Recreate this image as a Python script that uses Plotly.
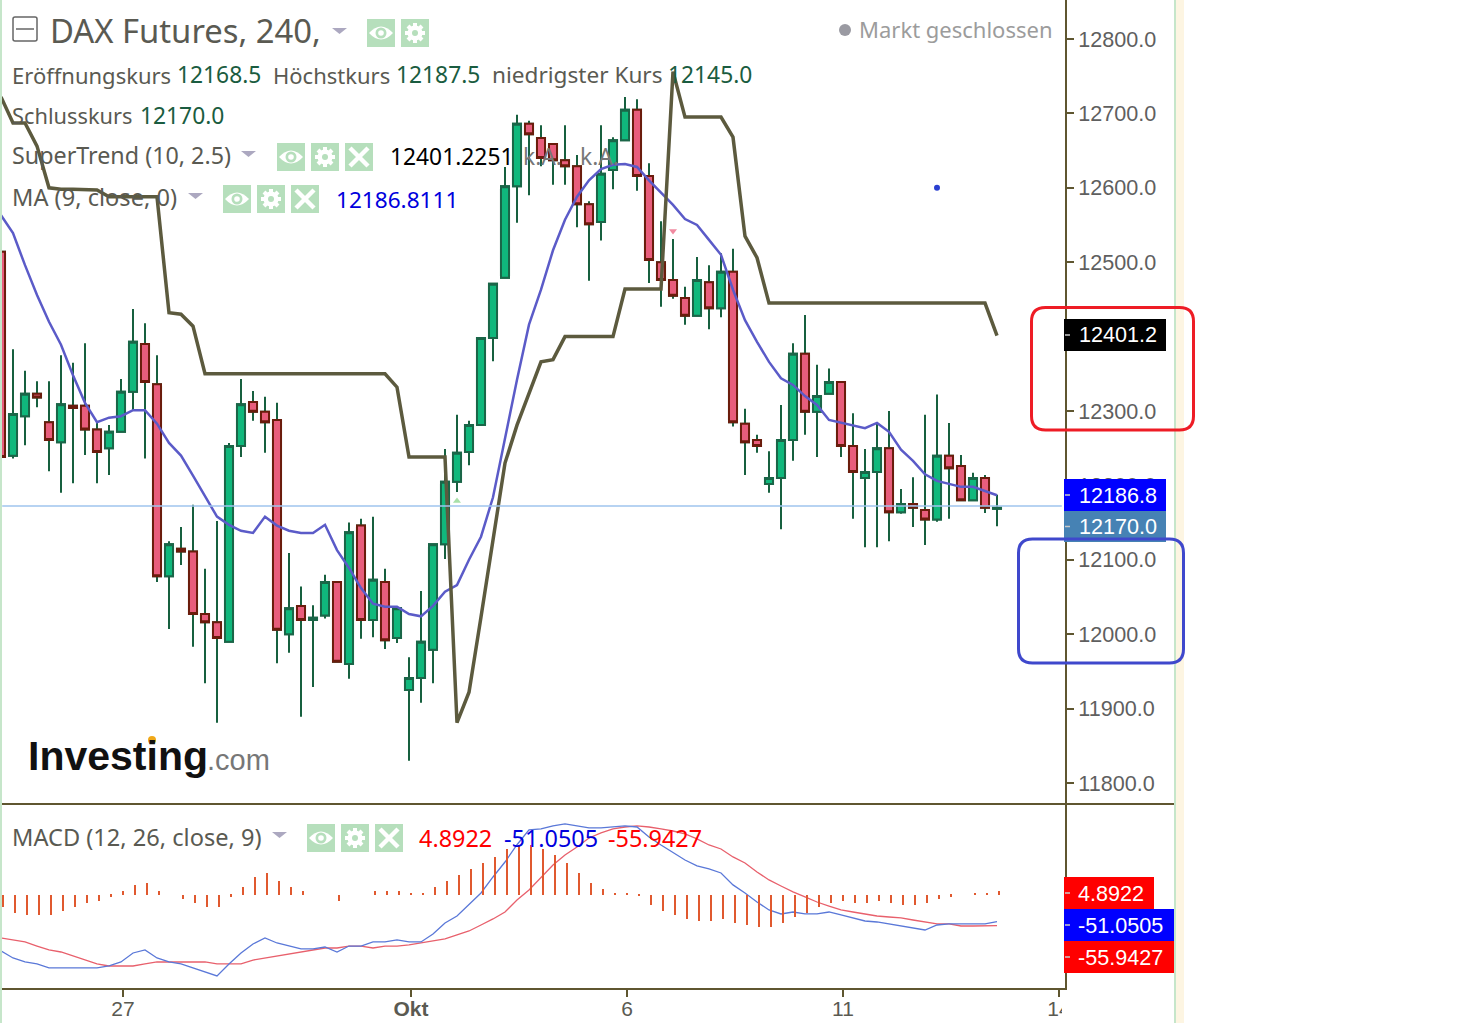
import plotly.graph_objects as go

W, H = 1458, 1023

candle_open = [12514,12240,12293,12323,12285,12258,12307,12307,12275,12250,
               12272,12326,12390,12336,12078,12115,12111,12027,12016,11990,
               12253,12312,12299,12288,12000,12038,12019,12025,12070,11960,
               12146,12019,12070,11995,11925,11941,11979,12121,12205,12245,
               12281,12398,12479,12602,12686,12667,12659,12637,12629,12578,
               12554,12624,12664,12705,12616,12500,12476,12452,12428,12473,
               12438,12487,12283,12261,12202,12210,12261,12377,12299,12323,
               12339,12253,12210,12218,12250,12164,12175,12167,12154,12240,
               12226,12180,12210,12168.5]
candle_high = [12516,12383,12354,12340,12340,12375,12365,12391,12285,12281,
               12343,12437,12418,12375,12125,12144,12174,12088,12152,12257,
               12343,12327,12319,12311,12109,12064,12039,12080,12070,12150,
               12155,12158,12088,12035,11969,12058,12121,12249,12295,12287,
               12398,12471,12628,12698,12690,12684,12660,12684,12644,12582,
               12684,12668,12722,12719,12633,12555,12531,12467,12507,12496,
               12512,12518,12303,12268,12246,12308,12391,12429,12362,12357,
               12339,12297,12249,12284,12300,12195,12211,12295,12322,12284,
               12241,12217,12214,12187.5]
candle_low = [12236,12236,12254,12305,12219,12190,12203,12241,12203,12214,
              12272,12301,12236,12070,12007,12093,11983,11934,11881,11990,
              12238,12287,12244,11961,11975,11889,11929,12021,11963,11940,
              11994,11996,11980,11988,11830,11908,11934,12101,12191,12227,
              12280,12367,12479,12553,12590,12629,12604,12604,12547,12475,
              12529,12598,12664,12596,12472,12440,12451,12416,12428,12410,
              12426,12279,12214,12244,12190,12141,12233,12268,12238,12323,
              12238,12155,12117,12117,12125,12162,12144,12120,12151,12155,
              12180,12180,12163,12145]
candle_close = [12238,12296,12323,12318,12261,12309,12304,12275,12245,12272,
                12326,12393,12339,12078,12121,12111,12027,12016,11995,12253,
                12309,12299,12285,12006,12035,12019,12022,12070,11963,12137,
                12019,12073,11992,12035,11941,11990,12121,12205,12244,12281,
                12398,12471,12602,12686,12672,12640,12637,12629,12578,12551,
                12619,12664,12705,12616,12503,12476,12455,12428,12476,12438,
                12487,12285,12258,12253,12210,12261,12377,12299,12320,12339,
                12253,12218,12218,12250,12164,12175,12170,12154,12240,12223,
                12180,12210,12170,12170]
supertrend = [12722,12687,12687,12656,12600,12598,12598,12598,12597,12588,
              12588,12588,12588,12588,12432,12430,12414,12350,12350,12350,
              12350,12350,12350,12350,12350,12350,12350,12350,12350,12350,
              12350,12350,12350,12332,12238,12238,12238,12238,11881,11922,
              12023,12124,12230,12281,12323,12366,12369,12400,12400,12400,
              12400,12400,12464,12464,12464,12464,12756,12695,12695,12695,
              12695,12668,12535,12506,12445,12445,12445,12445,12445,12445,
              12445,12445,12445,12445,12445,12445,12445,12445,12445,12445,
              12445,12445,12445,12401.2]
moving_avg = [12563,12539,12496,12456,12420,12389,12348,12311,12285,12291,
              12293,12301,12301,12283,12257,12240,12213,12186,12158,12147,
              12139,12136,12158,12146,12139,12136,12136,12147,12113,12089,
              12062,12041,12037,12037,12027,12024,12038,12057,12066,12100,
              12131,12184,12264,12342,12416,12463,12516,12557,12588,12610,
              12625,12631,12632,12628,12610,12594,12577,12558,12550,12530,
              12510,12463,12422,12393,12366,12344,12335,12320,12308,12288,
              12284,12281,12277,12284,12272,12248,12233,12215,12206,12202,
              12198,12198,12192,12186.8]
macd_line = [-86.9,-95.4,-100.3,-102.7,-107.6,-107.6,-107.6,-107.6,-107.6,-105.2,
             -100.3,-89.3,-85.6,-95.4,-100.3,-102.7,-107.6,-112.5,-117.4,-102.7,
             -89.3,-78.3,-70.9,-77.1,-80.8,-84.4,-84.4,-82.0,-88.1,-80.8,
             -80.8,-75.8,-75.8,-73.4,-75.8,-75.8,-66.0,-52.6,-44.1,-30.6,
             -16.0,3.6,21.9,43.0,61.1,62.3,66.0,68.4,66.0,63.5,
             63.5,64.7,66.0,64.7,52.5,42.7,33.0,24.4,17.1,13.4,
             8.5,-6.1,-16.0,-27.0,-36.7,-41.6,-39.2,-41.6,-41.6,-39.2,
             -42.8,-46.5,-50.2,-51.4,-53.8,-56.3,-58.7,-61.2,-55.1,-53.8,
             -53.8,-53.8,-53.8,-51.05]
signal_line = [-70.9,-73.4,-75.8,-80.8,-85.6,-88.1,-93.0,-97.9,-102.7,-105.2,
               -105.2,-105.2,-102.7,-100.3,-100.3,-100.3,-100.3,-100.3,-102.7,-102.7,
               -102.7,-97.9,-95.4,-93.0,-90.5,-88.1,-85.6,-83.2,-83.2,-80.8,
               -80.8,-83.2,-80.8,-80.8,-79.5,-77.1,-74.6,-72.2,-67.3,-62.4,
               -55.1,-47.7,-39.2,-24.5,-12.3,3.6,18.3,30.5,40.3,51.3,
               57.4,62.3,64.7,66.0,64.7,62.3,59.8,56.2,50.1,42.7,
               37.8,28.1,20.7,9.7,0.0,-7.4,-14.7,-20.8,-27.0,-31.9,
               -36.7,-39.2,-41.6,-44.1,-45.3,-46.5,-49.0,-51.4,-53.8,-53.8,
               -56.3,-56.3,-56.3,-55.94]
macd_hist = [-14.3,-21.6,-24,-24,-24,-19.2,-14.3,-9.4,-6.9,-2,
             4.9,12.2,14.7,4.9,0,-4.5,-9.4,-14.3,-14.3,-2,
             9.8,22,26.9,17.1,9.8,4.9,0,0,-6.9,0,
             0,4.9,4.9,4.9,2.4,2.4,9.8,17.1,24.5,31.8,
             39.1,46.5,56.2,61.1,61.1,56.2,48.9,39.1,26.9,14.7,
             7.3,2,2,-1.2,-11.8,-19.2,-24,-28.9,-31.4,-31.4,
             -28.9,-33.8,-36.3,-38.7,-38.7,-33.8,-26.5,-21.6,-14.3,-9.4,
             -6.9,-9.4,-9.4,-6.9,-9.4,-11.8,-11.8,-9.4,-4.5,-2,
             0,2,2,4.89]
bar_index = list(range(len(candle_close)))
hist_index = [i + 1 / 6 for i in bar_index]
price_ticks = [11800, 11900, 12000, 12100, 12200, 12300, 12400, 12500, 12600, 12700, 12800]
time_tick_pos = [10 + 1 / 6, 34 + 1 / 6, 52 + 1 / 6, 70 + 1 / 6, 88 + 1 / 6]
time_tick_text = ["27", "<b>Okt</b>", "6", "11", "14"]
last_price_line = 12172.4

INK = "#5f5630"
TXT = "#5a5a52"
GRN = "#1a5c40"
ARIAL = "Liberation Sans"
UI = "Noto Sans"
ICON = "#b6dfbc"


def X(px):
    return px / W


def Y(py):
    return 1 - py / H


def P(px, py):
    return f"{X(px):.5f},{Y(py):.5f}"


fig = go.Figure()
fig.add_trace(go.Scatter(x=bar_index, y=moving_avg, mode="lines", name="MA",
                         line=dict(color="#5b5bc8", width=2.5), hoverinfo="skip"))
fig.add_trace(go.Scatter(x=bar_index, y=supertrend, mode="lines", name="SuperTrend",
                         line=dict(color="#5c5a3e", width=3.5), hoverinfo="skip"))
fig.add_trace(go.Candlestick(x=bar_index, open=candle_open, high=candle_high, low=candle_low, close=candle_close,
                             name="Dochte",
                             increasing=dict(line=dict(color="#17603f", width=2), fillcolor="rgba(0,0,0,0)"),
                             decreasing=dict(line=dict(color="#17603f", width=2), fillcolor="rgba(0,0,0,0)"),
                             hoverinfo="skip"))
fig.add_trace(go.Candlestick(x=bar_index, open=candle_open,
                             high=[max(a, b) for a, b in zip(candle_open, candle_close)],
                             low=[min(a, b) for a, b in zip(candle_open, candle_close)],
                             close=candle_close, name="DAX Futures",
                             increasing=dict(line=dict(color="#1a6648", width=2), fillcolor="#10b87c"),
                             decreasing=dict(line=dict(color="#6a1c0c", width=2), fillcolor="#e85d7c"),
                             hoverinfo="skip"))
fig.add_trace(go.Scatter(x=[38], y=[12179], mode="markers", marker=dict(symbol="triangle-up", size=7, color="#a8e0a8"),
                         hoverinfo="skip"))
fig.add_trace(go.Scatter(x=[56], y=[12542], mode="markers", marker=dict(symbol="triangle-down", size=7, color="#f08aa0"),
                         hoverinfo="skip"))
fig.add_trace(go.Scatter(x=[78], y=[12600], mode="markers", marker=dict(symbol="circle", size=6, color="#2a3fd0"),
                         hoverinfo="skip"))

fig.add_trace(go.Bar(x=hist_index, y=macd_hist, width=0.17, marker=dict(color="#e0592f", line=dict(width=0)),
                     xaxis="x2", yaxis="y3", name="Histogramm", hoverinfo="skip"))
fig.add_trace(go.Scatter(x=bar_index, y=signal_line, mode="lines", xaxis="x2", yaxis="y2", name="Signal",
                         line=dict(color="#e8606c", width=1.3), hoverinfo="skip"))
fig.add_trace(go.Scatter(x=bar_index, y=macd_line, mode="lines", xaxis="x2", yaxis="y2", name="MACD",
                         line=dict(color="#5a78d8", width=1.3), hoverinfo="skip"))

shapes = []
annotations = []


def rect(x0, y0, x1, y1, color):
    shapes.append(dict(type="rect", xref="paper", yref="paper", x0=X(x0), x1=X(x1), y0=Y(y0), y1=Y(y1),
                       fillcolor=color, line=dict(width=0), layer="above"))


def seg(x0, y0, x1, y1, color, width):
    shapes.append(dict(type="line", xref="paper", yref="paper", x0=X(x0), x1=X(x1), y0=Y(y0), y1=Y(y1),
                       line=dict(color=color, width=width), layer="above"))


def circ(cx, cy, r, color):
    shapes.append(dict(type="circle", xref="paper", yref="paper", x0=X(cx - r), x1=X(cx + r), y0=Y(cy + r), y1=Y(cy - r),
                       fillcolor=color, line=dict(width=0), layer="above"))


def path(d, fill=None, line_color=None, width=0):
    s = dict(type="path", xref="paper", yref="paper", path=d, layer="above", line=dict(width=width))
    if fill:
        s["fillcolor"] = fill
    if line_color:
        s["line"]["color"] = line_color
    shapes.append(s)


def rrect(x0, y0, x1, y1, r, color, width):
    d = (f"M {P(x0 + r, y0)} L {P(x1 - r, y0)} Q {P(x1, y0)} {P(x1, y0 + r)} L {P(x1, y1 - r)} "
         f"Q {P(x1, y1)} {P(x1 - r, y1)} L {P(x0 + r, y1)} Q {P(x0, y1)} {P(x0, y1 - r)} L {P(x0, y0 + r)} "
         f"Q {P(x0, y0)} {P(x0 + r, y0)} Z")
    path(d, line_color=color, width=width)


def tri(x0, x1, y0, y1):
    path(f"M {P(x0, y0)} L {P(x1, y0)} L {P((x0 + x1) / 2, y1)} Z", fill="#aca8c0")


def eye(x, y):
    rect(x, y, x + 28, y + 28, ICON)
    cx, cy = x + 14, y + 14
    path(f"M {P(cx - 12, cy)} Q {P(cx, cy - 13)} {P(cx + 12, cy)} Q {P(cx, cy + 13)} {P(cx - 12, cy)} Z", fill="white")
    circ(cx, cy, 5.5, ICON)
    circ(cx, cy, 2.8, "white")


def gear(x, y):
    rect(x, y, x + 28, y + 28, ICON)
    cx, cy = x + 14, y + 14
    seg(cx - 10, cy, cx + 10, cy, "white", 4)
    seg(cx, cy - 10, cx, cy + 10, "white", 4)
    seg(cx - 7, cy - 7, cx + 7, cy + 7, "white", 4)
    seg(cx - 7, cy + 7, cx + 7, cy - 7, "white", 4)
    circ(cx, cy, 7.5, "white")
    circ(cx, cy, 3, ICON)


def cross(x, y):
    rect(x, y, x + 28, y + 28, ICON)
    seg(x + 5, y + 5, x + 23, y + 23, "white", 4.5)
    seg(x + 5, y + 23, x + 23, y + 5, "white", 4.5)


def label(x, y, text, color=TXT, size=22, family=UI, anchor="left"):
    annotations.append(dict(xref="paper", yref="paper", x=X(x), y=Y(y), text=text, showarrow=False,
                            xanchor=anchor, yanchor="middle", borderpad=0, borderwidth=0,
                            font=dict(family=family, size=size, color=color)))


# page stripes
rect(0, 0, 2, H, "#c6e6ca")
rect(1174, 0, 1176, H, "#c6e6ca")
rect(1176, 0, 1184, H, "#fdf5e2")
seg(2, 804, 1174, 804, INK, 2)
# last-price line, placed on the data scales
shapes.append(dict(type="line", xref="x", yref="y", x0=0.1, x1=88.4, y0=last_price_line, y1=last_price_line,
                   line=dict(color="#9fc5ee", width=1.5), layer="above"))
# clipped "14"
rect(1062, 990, 1075, H, "white")

# price tags
for y0, y1, col, txt, xr in [(319, 351, "#000000", "12401.2", 1166), (479, 511, "#0000ff", "12186.8", 1166),
                             (511, 542, "#4682b4", "12170.0", 1166)]:
    rect(1064, y0, xr, y1, col)
    seg(1065, (y0 + y1) / 2, 1070, (y0 + y1) / 2, "#c8c8c8", 1.5)
    label(1079, (y0 + y1) / 2, txt, "white", 21.6, ARIAL)
for y0, y1, col, txt, xr in [(877, 909, "#ff0000", "4.8922", 1154), (909, 941, "#0000ff", "-51.0505", 1174),
                             (941, 973, "#ff0000", "-55.9427", 1174)]:
    rect(1064, y0, xr, y1, col)
    seg(1065, (y0 + y1) / 2, 1070, (y0 + y1) / 2, "#c8c8c8", 1.5)
    label(1078, (y0 + y1) / 2, txt, "white", 21.6, ARIAL)

# hand-drawn frames
rrect(1031.5, 307.5, 1193.5, 430, 14, "#ee1c25", 3)
rrect(1018.5, 539, 1183.5, 663, 14, "#3f48cc", 3)

# header widgets
rrect(13, 17, 37, 41, 2, "#666666", 1.5)
seg(16, 29, 34, 29, "#666666", 1.5)
tri(332, 347, 28, 34)
eye(367, 19)
gear(401, 19)
tri(241, 256, 151, 157)
eye(277, 143)
gear(311, 143)
cross(345, 143)
tri(188, 203, 193, 199)
eye(223, 185)
gear(257, 185)
cross(291, 185)
tri(272, 287, 832, 838)
eye(307, 824)
gear(341, 824)
cross(375, 824)
circ(845, 30, 6, "#9a9aa2")

# header text
label(50, 31, "DAX Futures, 240,", TXT, 32.8)
label(859, 29.5, "Markt geschlossen", "#9c9c9c", 22)
label(12, 74.5, "Eröffnungskurs", TXT)
label(177, 74.5, "12168.5", GRN, 22.8)
label(273, 74.5, "Höchstkurs", TXT, 22)
label(396, 74.5, "12187.5", GRN, 22.8)
label(492, 74.5, "niedrigster Kurs", TXT, 22.6)
label(668, 74.5, "12145.0", GRN, 22.8)
label(12, 115.5, "Schlusskurs", TXT, 21.8)
label(140, 115.5, "12170.0", GRN, 22.8)
label(12, 155, "SuperTrend (10, 2.5)", TXT, 23.3)
label(390, 157, "12401.2251", "#000000", 22.8)
label(523, 157, "k.A.", "#777777", 22.8)
label(580, 157, "k.A.", "#777777", 22.8)
label(12, 197, "MA (9, close, 0)", TXT, 23.6)
label(336, 199, "12186.8111", "#0000dd", 22.6)
label(12, 836.5, "MACD (12, 26, close, 9)", TXT, 23.6)
label(419, 838, "4.8922", "#ff0000", 23.4)
label(504, 838, "-51.0505", "#0000dd", 23.4)
label(608, 838, "-55.9427", "#ff0000", 23.4)

# logo
label(28, 756, "<b>Investing</b>", "#111111", 41, ARIAL)
label(207, 760, ".com", "#777777", 29, ARIAL)
circ(152, 740, 4, "#f0a818")

x_range = [1 / 12, 1064 / 12]
fig.update_layout(
    width=W, height=H, margin=dict(l=0, r=0, t=0, b=0, autoexpand=False), paper_bgcolor="white", plot_bgcolor="white",
    autosize=False, showlegend=False, shapes=shapes, annotations=annotations, bargap=0,
    boxgap=0.33, boxgroupgap=0, boxmode="overlay",
    xaxis=dict(domain=[2 / W, 1065 / W], range=x_range, anchor="y", showgrid=False, zeroline=False,
               showticklabels=False, ticks="", rangeslider=dict(visible=False)),
    xaxis2=dict(domain=[2 / W, 1065 / W], range=x_range, matches="x", anchor="y2", showgrid=False, zeroline=False,
                showline=True, linecolor=INK, linewidth=2, ticks="outside", ticklen=7, tickwidth=2, tickcolor=INK,
                tickmode="array", tickvals=time_tick_pos, ticktext=time_tick_text, ticklabelstandoff=-6,
                tickfont=dict(family=ARIAL, size=21, color=TXT), rangeslider=dict(visible=False)),
    yaxis=dict(domain=[1 - 803 / H, 1], range=[11773.1, 12852.4], side="right", anchor="x", showgrid=False,
               zeroline=False, showline=True, linecolor=INK, linewidth=2, ticks="outside", ticklen=7, tickwidth=2,
               tickcolor=INK, tickmode="array", tickvals=price_ticks, tickformat=".1f", ticklabelstandoff=0,
               tickfont=dict(family=ARIAL, size=21.6, color="#5f5f5f")),
    yaxis2=dict(domain=[1 - 988 / H, 1 - 804 / H], range=[-132.1, 92.8], side="right", anchor="x2", showgrid=False,
                zeroline=False, showline=True, linecolor=INK, linewidth=2, ticks="", showticklabels=False),
    yaxis3=dict(domain=[1 - 988 / H, 1 - 804 / H], range=[-113.7, 111.2], overlaying="y2", anchor="x2",
                visible=False, showgrid=False, zeroline=False),
)
fig.write_html("out.html", config=dict(displayModeBar=False),
               post_script="document.body.style.margin='0';document.documentElement.style.overflow='hidden';"
                           "document.body.style.overflow='hidden';document.body.style.height='1023px';")
